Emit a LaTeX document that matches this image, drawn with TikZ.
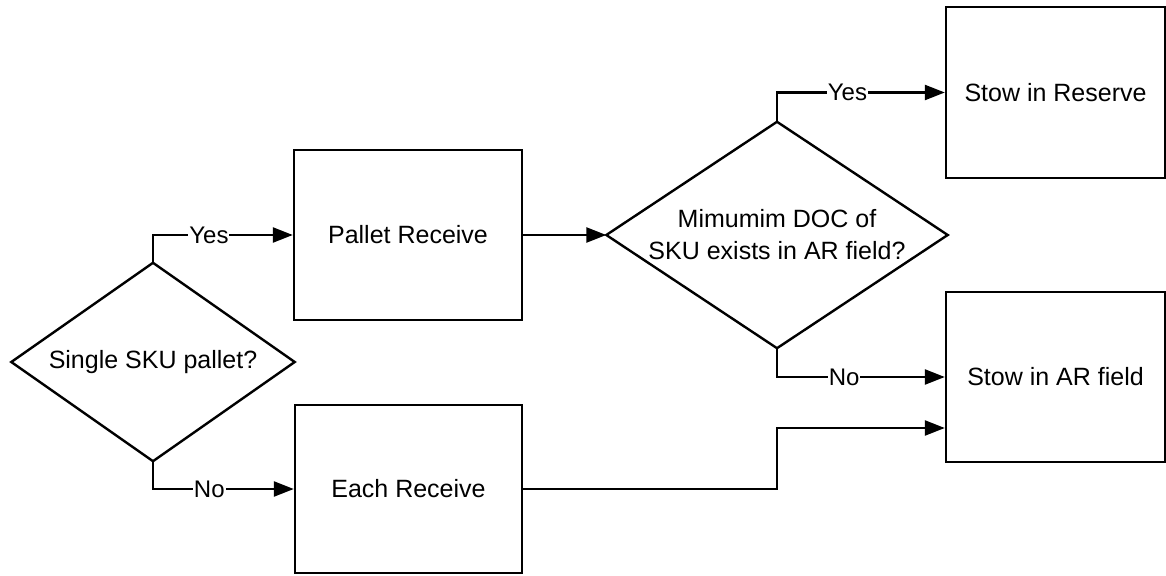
\documentclass[tikz,border=0pt]{standalone}
\usepackage{fontspec}
\setmainfont{Liberation Sans}
\usetikzlibrary{arrows.meta,calc}
\begin{document}
\begin{tikzpicture}[x=1pt,y=-1pt,
  box/.style={draw, line width=2.4pt, inner sep=0pt, align=center,
    font=\fontsize{25}{31}\selectfont},
  decision/.style={inner sep=0pt, align=center, font=\fontsize{25}{32}\selectfont},
  outline/.style={line width=2.4pt},
  flow/.style={line width=2.4pt, -{Triangle[length=20pt,width=15pt]}},
  lbl/.style={fill=white, inner sep=1pt, font=\fontsize{24}{28}\selectfont}]
\useasboundingbox (0,0) rectangle (1166,575);

% decisions: invisible frames, outline drawn from their anchors
\node[decision, minimum width=283pt, minimum height=198pt] (d1) at (153,362) {Single SKU pallet?};
\node[decision, minimum width=341pt, minimum height=226pt] (d2) at (777,235) {Mimumim DOC of\\SKU exists in AR field?};
\draw[outline] (d1.west) -- (d1.north) -- (d1.east) -- (d1.south) -- cycle;
\draw[outline] (d2.west) -- (d2.north) -- (d2.east) -- (d2.south) -- cycle;

% process boxes
\node[box, minimum width=228pt, minimum height=170pt] (pallet) at (408,235) {Pallet Receive};
\node[box, minimum width=227pt, minimum height=168pt] (each) at (408.5,489) {Each Receive};
\node[box, minimum width=219pt, minimum height=171pt] (reserve) at (1055.5,92.5) {Stow in Reserve};
\node[box, minimum width=219pt, minimum height=170pt] (arfield) at (1055.5,377) {Stow in AR field};

% connectors
\draw[flow] (d1.north) |- node[lbl, pos=0.7] {Yes} (pallet.west);
\draw[flow] (d1.south) |- node[lbl, pos=0.7] {No} (each.west);
\draw[flow] (pallet.east) -- (d2.west);
\draw[flow] (d2.north) |- node[lbl, pos=0.71] {Yes} (reserve.west);
\draw[flow] (d2.south) |- node[lbl, pos=0.7] {No} (arfield.west);
\coordinate (arin) at ([yshift=-51pt]arfield.west);
\draw[flow] (each.east) -- (each.east -| d2.south) |- (arin);
\end{tikzpicture}
\end{document}
